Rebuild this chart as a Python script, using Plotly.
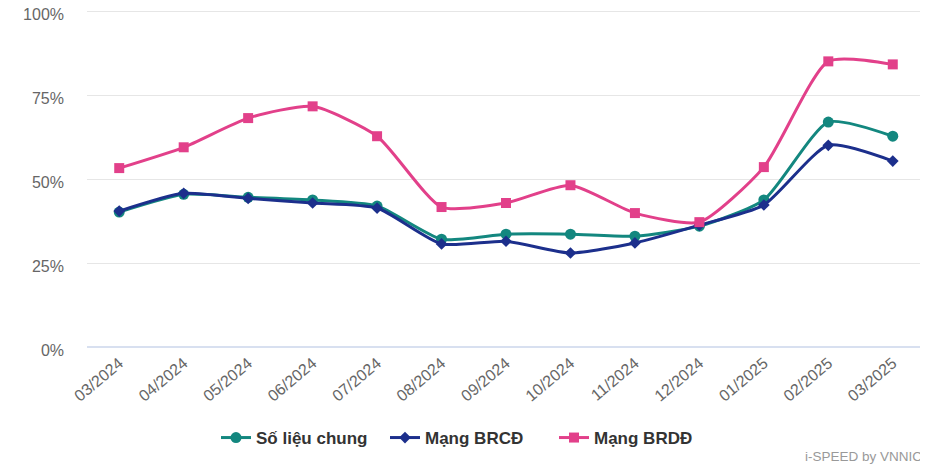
import plotly.graph_objects as go

months = ["03/2024", "04/2024", "05/2024", "06/2024", "07/2024", "08/2024", "09/2024",
          "10/2024", "11/2024", "12/2024", "01/2025", "02/2025", "03/2025"]
so_lieu_chung = [40.2, 45.5, 44.6, 43.8, 42.0, 32.1, 33.6, 33.6, 33.0, 36.0, 43.8, 67.0, 62.8]
mang_brcd = [40.5, 45.8, 44.3, 42.9, 41.4, 30.7, 31.5, 28.0, 31.0, 36.3, 42.3, 60.1, 55.4]
mang_brdd = [53.3, 59.5, 68.2, 71.7, 62.8, 41.7, 42.9, 48.2, 39.9, 37.2, 53.6, 85.1, 84.2]
y_ticks = [0, 25, 50, 75, 100]
y_tick_labels = ["0%", "25%", "50%", "75%", "100%"]

W, H = 920, 456  # page body has an 8px margin in the browser window

fig = go.Figure()
series = [
    ("Số liệu chung", so_lieu_chung, "#13877f", "circle", 11),
    ("Mạng BRCĐ", mang_brcd, "#1c2f8c", "diamond", 9),
    ("Mạng BRDĐ", mang_brdd, "#e2408a", "square", 10),
]
for name, vals, color, sym, size in series:
    fig.add_trace(go.Scatter(
        x=months, y=vals, name=name, mode="lines+markers",
        line=dict(color=color, width=3, shape="spline", smoothing=0.6),
        marker=dict(symbol=sym, size=size, color=color),
    ))

fig.update_layout(
    width=W, height=H,
    margin=dict(l=79, r=3, t=0, b=117, autoexpand=False),
    paper_bgcolor="white", plot_bgcolor="white",
    font=dict(family="Liberation Sans, Arial, sans-serif", color="#666666", size=14),
    showlegend=True,
    legend=dict(orientation="h", xref="container", yref="container",
                x=208 / W, xanchor="left", y=1 - 430 / H, yanchor="middle",
                font=dict(size=17, color="#333333", family="Liberation Sans, Arial, sans-serif", weight="bold"),
                entrywidth=124, entrywidthmode="pixels", tracegroupgap=0),
    xaxis=dict(type="category", range=[-0.5, 12.5], tickangle=-40, showgrid=False, showline=False,
               automargin=False, ticklabelstandoff=3,
               tickfont=dict(size=16, color="#666666"), ticks="", zeroline=False),
    yaxis=dict(range=[0, 101], tickvals=y_ticks, ticktext=y_tick_labels, automargin=False,
               showgrid=True, gridcolor="#e6e6e6", gridwidth=1, zeroline=True,
               zerolinecolor="#d8e0f0", zerolinewidth=2, ticks="", ticklabelstandoff=22,
               ticklabelshift=3, ticklabeloverflow="allow",
               tickfont=dict(size=16, color="#666666")),
    annotations=[dict(text="i-SPEED by VNNIC", xref="paper", yref="paper",
                      x=(916 - 79) / (W - 79 - 3), y=-(448 - 339) / 339,
                      xanchor="right", yanchor="middle", showarrow=False,
                      font=dict(size=13.5, color="#999999"))],
)

fig.write_html("out.html")
